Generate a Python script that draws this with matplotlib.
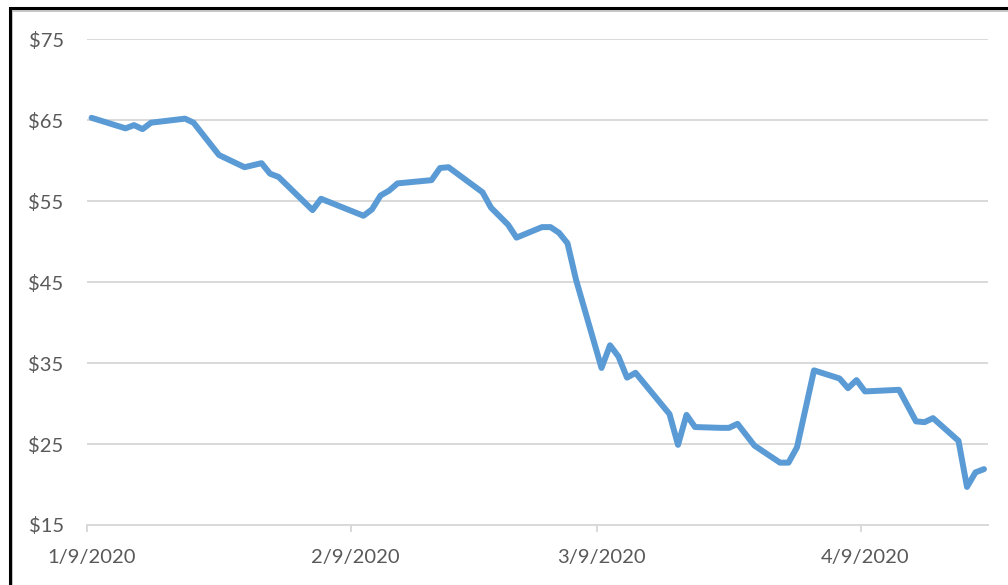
# libraries ----------------------
import pandas as pd
import matplotlib
matplotlib.use('Agg')
import matplotlib.pyplot as plt
from matplotlib.patches import Rectangle

# data ---------------------------
dates = ['2020-01-09', '2020-01-13', '2020-01-14', '2020-01-15', '2020-01-16', '2020-01-20',
         '2020-01-21', '2020-01-24', '2020-01-27', '2020-01-29', '2020-01-30', '2020-01-31',
         '2020-02-04', '2020-02-05', '2020-02-10', '2020-02-11', '2020-02-12', '2020-02-13',
         '2020-02-14', '2020-02-18', '2020-02-19', '2020-02-20', '2020-02-24', '2020-02-25',
         '2020-02-27', '2020-02-28', '2020-03-02', '2020-03-03', '2020-03-04', '2020-03-05',
         '2020-03-06', '2020-03-09', '2020-03-10', '2020-03-11', '2020-03-12', '2020-03-13',
         '2020-03-17', '2020-03-18', '2020-03-19', '2020-03-20', '2020-03-23', '2020-03-24',
         '2020-03-25', '2020-03-27', '2020-03-30', '2020-03-31', '2020-04-01', '2020-04-03',
         '2020-04-06', '2020-04-07', '2020-04-08', '2020-04-09', '2020-04-13', '2020-04-15',
         '2020-04-16', '2020-04-17', '2020-04-20', '2020-04-21', '2020-04-22', '2020-04-23']
price = [65.3, 64.0, 64.4, 63.9, 64.7, 65.2,
         64.7, 60.7, 59.2, 59.7, 58.4, 58.0,
         53.9, 55.3, 53.2, 54.0, 55.7, 56.3,
         57.2, 57.6, 59.1, 59.2, 56.1, 54.2,
         52.1, 50.5, 51.8, 51.8, 51.1, 49.8,
         45.3, 34.4, 37.2, 35.8, 33.2, 33.8,
         28.7, 24.9, 28.6, 27.1, 27.0, 27.0,
         27.5, 24.8, 22.7, 22.7, 24.6, 34.1,
         33.1, 31.9, 32.9, 31.5, 31.7, 27.8,
         27.7, 28.2, 25.4, 19.7, 21.5, 21.9]
tick_dates = ['2020-01-09', '2020-02-09', '2020-03-09', '2020-04-09']
tick_labels = ['1/9/2020', '2/9/2020', '3/9/2020', '4/9/2020']
y_ticks = [15, 25, 35, 45, 55, 65, 75]

# plot ---------------------------
plt.rcParams['font.family'] = ['Lato', 'DejaVu Sans']

x = pd.to_datetime(dates)
ticks = pd.to_datetime(tick_dates)
half_day = pd.Timedelta(hours=12)

fig = plt.figure(figsize=(10.08, 5.85), dpi=100)
ax = fig.add_axes([0.0866, 0.1026, 0.8938, 0.8302])

ax.plot(x, price, color='#5B9BD5', linewidth=4.3, solid_joinstyle='round', solid_capstyle='round')

ax.set_ylim(15, 75)
ax.set_yticks(y_ticks)
ax.set_yticklabels(['$' + str(v) for v in y_ticks])
ax.set_xlim(x[0] - half_day, x[-1] + half_day)

ax.set_xticks(ticks)
ax.set_xticklabels(tick_labels)
ax.set_xticks(ticks - half_day, minor=True)
ax.tick_params(axis='x', which='major', length=0, pad=17, labelsize=14.5, labelcolor='#595959')
ax.tick_params(axis='x', which='minor', length=5, width=1.4, color='#D9D9D9')
ax.tick_params(axis='y', length=0, pad=17, labelsize=14.5, labelcolor='#595959')

ax.grid(axis='y', color='#D9D9D9', linewidth=1.4)
ax.set_axisbelow(True)
for s in ['top', 'right', 'left']:
    ax.spines[s].set_visible(False)
ax.spines['bottom'].set_color('#D9D9D9')
ax.spines['bottom'].set_linewidth(1.4)

# black frame around the chart, with a light shadow inside
fig.patches.append(Rectangle((11.5 / 1008, -0.1), 1.2, 1 - 10.5 / 585 + 0.1,
                             transform=fig.transFigure, fill=False,
                             edgecolor='#BFBFBF', linewidth=1.2))
fig.patches.append(Rectangle((9.5 / 1008, -0.1), 1.2, 1 - 8.5 / 585 + 0.1,
                             transform=fig.transFigure, fill=False,
                             edgecolor='black', linewidth=2.2))

fig.savefig('out.png', dpi=100)
